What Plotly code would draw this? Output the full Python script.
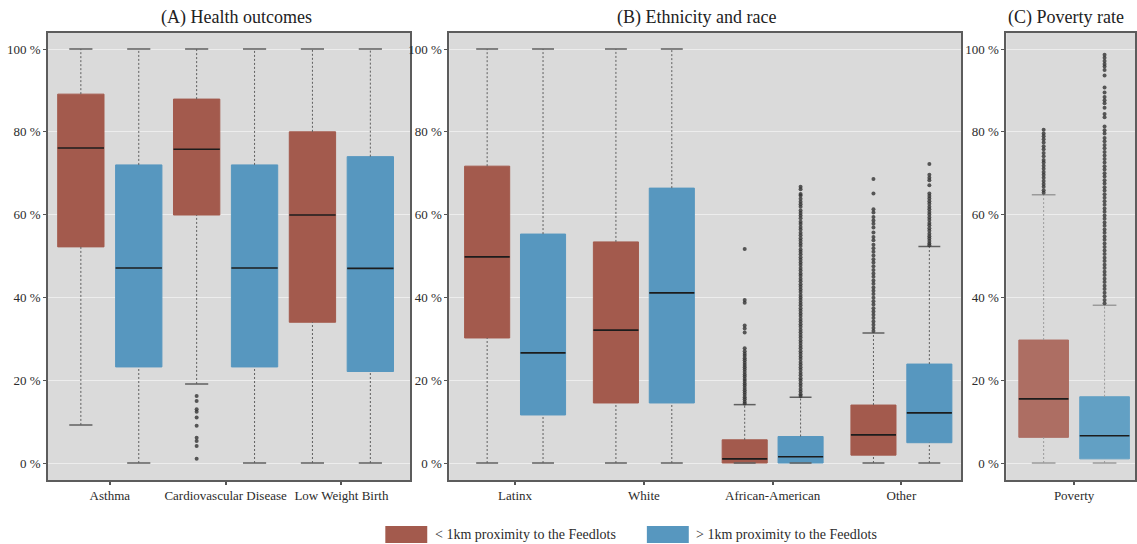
import plotly.graph_objects as go

# ---------------- DATA ----------------
# Panel A: Health outcomes
A_categories = ["Asthma", "Cardiovascular Disease", "Low Weight Birth"]
A_near_q1 = [52.2, 59.9, 34.0]
A_near_med = [76.1, 75.8, 59.9]
A_near_q3 = [89.1, 87.9, 80.0]
A_near_lo = [9.2, 19.1, 0.0]
A_near_hi = [100.0, 100.0, 100.0]
A_far_q1 = [23.2, 23.2, 22.1]
A_far_med = [47.1, 47.1, 47.0]
A_far_q3 = [72.0, 72.0, 74.0]
A_far_lo = [0.0, 0.0, 0.0]
A_far_hi = [100.0, 100.0, 100.0]
A_near_out = [[], [16.2, 15.0, 13.0, 12.4, 11.0, 9.0, 6.1, 5.3, 4.1, 1.0], []]
A_far_out = [[], [], []]

# Panel B: Ethnicity and race
B_categories = ["Latinx", "White", "African-American", "Other"]
B_near_q1 = [30.2, 14.5, 0.0, 1.9]
B_near_med = [49.8, 32.1, 1.0, 6.8]
B_near_q3 = [71.7, 53.4, 5.6, 14.0]
B_near_lo = [0.0, 0.0, 0.0, 0.0]
B_near_hi = [100.0, 100.0, 14.1, 31.4]
B_far_q1 = [11.6, 14.5, 0.0, 4.9]
B_far_med = [26.6, 41.1, 1.5, 12.1]
B_far_q3 = [55.3, 66.4, 6.4, 23.9]
B_far_lo = [0.0, 0.0, 0.0, 0.0]
B_far_hi = [100.0, 100.0, 15.9, 52.3]
B_near_out = [
    [],
    [],
    [51.7, 39.4, 38.7, 33.2, 32.5, 31.5, 27.7, 27.0, 26.4, 25.9, 25.3, 24.8, 24.2,
     23.7, 23.1, 22.6, 22.0, 21.4, 20.9, 20.3, 19.8, 19.2, 18.7, 18.1, 17.6, 17.0,
     16.5, 15.9, 15.4, 14.8, 14.4],
    [68.6, 65.1, 61.3, 60.5, 59.4, 58.6, 57.8, 56.9, 55.7, 54.6, 53.8, 52.7, 51.9,
     51.0, 50.1, 49.2, 48.4, 47.5, 46.6, 45.8, 45.0, 44.1, 43.3, 42.4, 41.6, 40.8,
     39.9, 39.1, 38.3, 37.4, 36.6, 35.8, 35.0, 34.2, 33.4, 32.6, 31.9],
]
B_far_out = [
    [],
    [],
    [66.7, 66.1, 65.0, 64.6, 63.8, 63.1, 62.5, 61.9, 61.0, 60.4, 59.8, 59.1, 58.3,
     57.7, 57.0, 56.4, 55.6, 55.0, 54.3, 53.7, 53.0, 52.4, 51.6, 51.0, 50.4, 49.7,
     49.1, 48.4, 47.8, 47.1, 46.5, 45.8, 45.2, 44.5, 43.9, 43.2, 42.6, 41.9, 41.3,
     40.6, 40.0, 39.4, 38.7, 38.1, 37.4, 36.8, 36.1, 35.5, 34.8, 34.2, 33.5, 32.9,
     32.2, 31.6, 30.9, 30.3, 29.6, 29.0, 28.3, 27.7, 27.0, 26.4, 25.7, 25.1, 24.4,
     23.8, 23.1, 22.5, 21.8, 21.2, 20.5, 19.9, 19.2, 18.6, 17.9, 17.3, 16.6, 16.2],
    [72.2, 69.6, 68.9, 68.3, 67.1, 65.1, 64.5, 63.9, 63.2, 62.6, 61.9, 61.3, 60.6,
     60.0, 59.3, 58.7, 58.0, 57.4, 56.7, 56.1, 55.4, 54.8, 54.2, 53.6, 53.0, 52.6],
]

# Panel C: Poverty rate
C_categories = ["Poverty"]
C_near_q1 = [6.2]
C_near_med = [15.5]
C_near_q3 = [29.7]
C_near_lo = [0.0]
C_near_hi = [64.8]
C_far_q1 = [1.0]
C_far_med = [6.6]
C_far_q3 = [16.0]
C_far_lo = [0.0]
C_far_hi = [38.1]
C_near_out = [[80.5, 79.6, 78.9, 78.2, 77.4, 76.5, 75.8, 74.9, 74.1, 73.2, 72.6, 71.8,
               71.1, 70.3, 69.6, 68.9, 68.1, 67.4, 66.7, 65.9, 65.3]]
C_far_out = [[98.6, 97.9, 97.1, 96.4, 95.8, 94.9, 93.6, 90.7, 89.5, 88.4, 87.6, 86.9,
              85.8, 84.3, 83.5, 81.3, 80.4, 79.6, 78.5, 77.7, 76.8, 76.0, 75.1, 74.3,
              73.4, 72.6, 71.7, 70.9, 70.0, 69.2, 68.3, 67.5, 66.6, 65.8, 64.9, 64.1,
              63.2, 62.4, 61.5, 60.7, 59.8, 59.0, 58.1, 57.3, 56.4, 55.6, 54.7, 53.9,
              53.0, 52.2, 51.3, 50.5, 49.6, 48.8, 47.9, 47.1, 46.2, 45.4, 44.5, 43.7,
              42.8, 42.0, 41.1, 40.3, 39.4, 38.6]]

Y_TICKS = [0, 20, 40, 60, 80, 100]
Y_TICKTEXT = ["0 %", "20 %", "40 %", "60 %", "80 %", "100 %"]

LEGEND_NEAR = "< 1km proximity to the Feedlots"
LEGEND_FAR = "> 1km proximity to the Feedlots"
TITLES = ["(A) Health outcomes", "(B) Ethnicity and race", "(C) Poverty rate"]

# ---------------- STYLE / LAYOUT ----------------
W, H = 1137, 544
FONT = "Liberation Serif"
TXT = "#2b2b2b"
PANEL_BG = "#dadada"

panels = [
    dict(cats=A_categories,
         near=(A_near_q1, A_near_med, A_near_q3, A_near_lo, A_near_hi, A_near_out),
         far=(A_far_q1, A_far_med, A_far_q3, A_far_lo, A_far_hi, A_far_out),
         px=(48, 411), c0=110, unit=116, off=0.25, bw=0.40, cap=0.20,
         red="#a35a4d", blue="#5797bf", wcol="#5f5f5f", title_x=237),
    dict(cats=B_categories,
         near=(B_near_q1, B_near_med, B_near_q3, B_near_lo, B_near_hi, B_near_out),
         far=(B_far_q1, B_far_med, B_far_q3, B_far_lo, B_far_hi, B_far_out),
         px=(450, 963), c0=516, unit=129, off=0.217, bw=0.35, cap=0.17,
         red="#a35a4d", blue="#5797bf", wcol="#5f5f5f", title_x=698),
    dict(cats=C_categories,
         near=(C_near_q1, C_near_med, C_near_q3, C_near_lo, C_near_hi, C_near_out),
         far=(C_far_q1, C_far_med, C_far_q3, C_far_lo, C_far_hi, C_far_out),
         px=(1008, 1137), c0=1076, unit=113, off=0.27, bw=0.44, cap=0.21,
         red="#ad6e63", blue="#62a0c4", wcol="#9a9a9a", title_x=1068),
]

y_top_px, y_bot_px, y_zero_px, y_scale = 33, 480, 463, 4.14
y_range = [-(y_bot_px - y_zero_px) / y_scale, (y_zero_px - y_top_px) / y_scale]
y_domain = [1 - y_bot_px / H, 1 - y_top_px / H]

fig = go.Figure()
layout_axes = {}
annotations = []

for pi, p in enumerate(panels):
    sfx = "" if pi == 0 else str(pi + 1)
    xa, ya = "x" + sfx, "y" + sfx
    for sign, stats, col in ((-1, p["near"], p["red"]), (1, p["far"], p["blue"])):
        q1s, meds, q3s, los, his, outs = stats
        for i in range(len(p["cats"])):
            pos = i + sign * p["off"]
            # box body
            fig.add_trace(go.Box(
                x=[pos], q1=[q1s[i]], median=[meds[i]], q3=[q3s[i]],
                lowerfence=[q1s[i]], upperfence=[q3s[i]],
                width=p["bw"], fillcolor=col, line=dict(color=col, width=1),
                whiskerwidth=0, boxpoints=False, xaxis=xa, yaxis=ya,
                showlegend=False, hoverinfo="skip"))
            # whiskers (dashed)
            fig.add_trace(go.Scatter(
                x=[pos, pos, None, pos, pos],
                y=[q3s[i], his[i], None, los[i], q1s[i]],
                mode="lines", line=dict(color=p["wcol"], width=1, dash="2px,2px"),
                xaxis=xa, yaxis=ya, showlegend=False, hoverinfo="skip"))
            # caps
            hc = p["cap"] / 2
            fig.add_trace(go.Scatter(
                x=[pos - hc, pos + hc, None, pos - hc, pos + hc],
                y=[his[i], his[i], None, los[i], los[i]],
                mode="lines", line=dict(color=p["wcol"], width=1.5),
                xaxis=xa, yaxis=ya, showlegend=False, hoverinfo="skip"))
            # median
            hb = p["bw"] / 2
            fig.add_trace(go.Scatter(
                x=[pos - hb, pos + hb], y=[meds[i], meds[i]],
                mode="lines", line=dict(color="#1c1c1c", width=1.6),
                xaxis=xa, yaxis=ya, showlegend=False, hoverinfo="skip"))
            # outliers
            if outs[i]:
                fig.add_trace(go.Scatter(
                    x=[pos] * len(outs[i]), y=outs[i], mode="markers",
                    marker=dict(color="#333333", size=4, opacity=0.8),
                    xaxis=xa, yaxis=ya, showlegend=False, hoverinfo="skip"))

    x0px, x1px = p["px"]
    xr = [(x0px - p["c0"]) / p["unit"], (x1px - p["c0"]) / p["unit"]]
    layout_axes["xaxis" + sfx] = dict(
        domain=[x0px / W, x1px / W], range=xr, anchor=ya,
        tickvals=list(range(len(p["cats"]))), ticktext=p["cats"],
        ticks="outside", ticklen=3, tickcolor="#555", tickwidth=1.5,
        showgrid=False, zeroline=False, showline=True, mirror=True,
        linecolor="#5c5c5c", linewidth=1.5,
        tickfont=dict(family=FONT, size=13, color=TXT))
    layout_axes["yaxis" + sfx] = dict(
        domain=y_domain, range=y_range, anchor=xa,
        tickvals=Y_TICKS, ticktext=Y_TICKTEXT,
        ticks="outside", ticklen=3, tickcolor="#555",
        showgrid=True, gridcolor="#ededed", gridwidth=1, zeroline=False,
        showline=True, mirror=True, linecolor="#5c5c5c", linewidth=1.5,
        tickfont=dict(family=FONT, size=13, color=TXT))
    annotations.append(dict(
        text=TITLES[pi], x=p["title_x"] / W, y=1 - 18 / H, xref="paper", yref="paper",
        xanchor="center", yanchor="middle", showarrow=False,
        font=dict(family=FONT, size=18, color="#222")))

# custom legend
shapes = []
for (sx0, sx1, tx, col, txt) in ((386, 428, 434, "#a35a4d", LEGEND_NEAR),
                                 (648, 690, 695, "#5797bf", LEGEND_FAR)):
    shapes.append(dict(type="rect", xref="paper", yref="paper",
                       x0=sx0 / W, x1=sx1 / W, y0=1 - 543 / H, y1=1 - 526 / H,
                       fillcolor=col, line=dict(width=0)))
    annotations.append(dict(text=txt, x=tx / W, y=1 - 534.5 / H, xref="paper",
                            yref="paper", xanchor="left", yanchor="middle",
                            showarrow=False,
                            font=dict(family=FONT, size=14, color=TXT)))

fig.update_layout(
    width=W, height=H, margin=dict(l=0, r=0, t=0, b=0),
    paper_bgcolor="white", plot_bgcolor=PANEL_BG,
    showlegend=False, boxmode="overlay",
    annotations=annotations, shapes=shapes,
    **layout_axes)

fig.write_html("out.html",
               config={"displayModeBar": False},
               post_script="document.body.style.margin='0';"
                           "document.body.style.overflow='hidden';")
